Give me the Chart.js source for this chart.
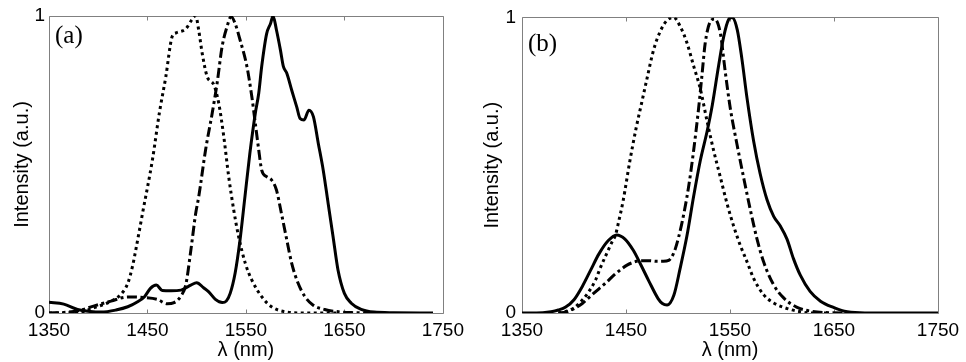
<!DOCTYPE html>
<html>
<head>
<meta charset="utf-8">
<script src="https://cdn.jsdelivr.net/npm/chart.js@4.4.1/dist/chart.umd.min.js"></script>
<style>
  html, body { margin: 0; padding: 0; background: #fff; width: 966px; height: 362px; overflow: hidden; }
  canvas { position: absolute; top: 0; }
  #ca { left: 0; }
  #cb { left: 470px; }
</style>
</head>
<body>
<canvas id="ca" width="470" height="362"></canvas>
<canvas id="cb" width="496" height="362"></canvas>
<script>
// ---------- DATA ----------
const xTickValues = [1350, 1450, 1550, 1650, 1750];
const yTickValues = [0, 1];
const xTitle = 'λ (nm)';
const yTitle = 'Intensity (a.u.)';
const panelLabels = ['(a)', '(b)'];

// Panel (a)
const aSolidX = [1350,1365,1379,1392,1403,1418,1430,1440,1447,1453,1459,1465,1474,1484,1494,1500,1507,1512,1519,1526,1530,1534,1539,1544,1549,1554,1559.5,1563,1566,1571,1575,1577.5,1581,1585,1588,1591.5,1596.5,1601.5,1605,1609,1614,1618.5,1623.5,1628.5,1633.5,1638.5,1643.5,1650,1657,1667,1680,1700,1740];
const aSolidY = [0.036,0.03,0.012,0.005,0.003,0.01,0.021,0.038,0.055,0.083,0.094,0.076,0.075,0.077,0.094,0.102,0.085,0.072,0.046,0.035,0.04,0.066,0.134,0.246,0.392,0.538,0.672,0.74,0.83,0.94,0.975,1.0,0.953,0.886,0.83,0.807,0.75,0.695,0.655,0.65,0.683,0.661,0.571,0.481,0.369,0.257,0.145,0.066,0.033,0.012,0.003,0.001,0];

const aDotX = [1350,1380,1396,1413,1423,1430,1435,1438,1445,1455,1462,1468.6,1475,1479,1489,1495.6,1499,1502,1505.6,1510.6,1517.4,1522.4,1527.5,1532.5,1537.6,1542.6,1549.4,1556,1566,1576,1590,1610,1645];
const aDotY = [0,0.002,0.018,0.04,0.063,0.1,0.16,0.21,0.336,0.515,0.672,0.795,0.93,0.943,0.957,0.99,1.0,0.953,0.874,0.796,0.768,0.706,0.594,0.459,0.347,0.257,0.167,0.111,0.055,0.021,0.004,0,0];

const aDashX = [1350,1365,1379,1396,1413,1430,1447,1460,1470,1477,1484,1489,1494,1499,1502,1509,1515.7,1520.7,1525.8,1530.8,1535,1539,1544,1551,1556,1559.5,1563,1566,1571,1576,1581,1586,1591.5,1596.5,1603,1610,1618,1630,1644,1660,1680];
const aDashY = [0,0.002,0.007,0.024,0.04,0.054,0.052,0.046,0.031,0.035,0.057,0.096,0.21,0.336,0.39,0.549,0.672,0.773,0.897,0.964,0.998,0.975,0.92,0.83,0.728,0.639,0.549,0.481,0.459,0.448,0.414,0.336,0.246,0.167,0.1,0.055,0.027,0.012,0.004,0.001,0];

// Panel (b)
const bSolidX = [1350,1370,1378,1385,1392,1400,1408,1416,1424,1433,1441,1449,1457,1464,1472,1481,1485,1489.5,1496,1502,1508.6,1515,1521.4,1528,1533,1539,1544,1548.7,1552,1557,1561.5,1566.4,1572.7,1579,1585.6,1592,1598.4,1604.8,1611,1617.6,1627,1637,1650,1660,1675,1700,1750];
const bSolidY = [0,0.001,0.004,0.01,0.02,0.045,0.09,0.145,0.2,0.245,0.264,0.25,0.212,0.165,0.108,0.048,0.032,0.027,0.06,0.15,0.261,0.394,0.515,0.615,0.704,0.836,0.936,0.993,1.0,0.958,0.858,0.726,0.582,0.471,0.383,0.327,0.294,0.25,0.184,0.128,0.073,0.04,0.018,0.006,0.001,0,0];

const bDotX = [1385,1392,1400,1408,1413,1420.5,1425,1430,1436.5,1440,1443,1447,1454,1460,1465,1470,1476.6,1483,1489.4,1495.8,1502.2,1508.6,1515,1521.4,1528,1534.3,1540.7,1547,1553.5,1560,1566.4,1572.7,1582.3,1592,1605,1618,1630,1645];
const bDotY = [0,0.005,0.017,0.044,0.066,0.11,0.15,0.19,0.24,0.265,0.31,0.375,0.52,0.63,0.71,0.79,0.891,0.953,0.99,1.0,0.969,0.914,0.836,0.759,0.648,0.549,0.46,0.372,0.294,0.228,0.173,0.117,0.062,0.034,0.015,0.004,0,0];

const bDashX = [1385,1392,1400,1408,1413,1424,1430,1440,1451,1456,1464,1472,1480,1486,1491,1494,1497.4,1503.8,1510.2,1515,1519.8,1523,1526.2,1531,1535,1540.7,1545.5,1550.3,1556.7,1563,1569.5,1576,1582.3,1592,1601.6,1614,1628,1645,1670];
const bDashY = [0,0.003,0.015,0.032,0.048,0.082,0.1,0.133,0.162,0.17,0.177,0.177,0.175,0.175,0.178,0.19,0.217,0.305,0.427,0.549,0.692,0.803,0.914,0.986,0.995,0.947,0.814,0.692,0.571,0.46,0.35,0.25,0.173,0.095,0.051,0.02,0.006,0.001,0];

// ---------- CHART ----------
function pts(xs, ys) { return xs.map((x, i) => ({ x: x, y: ys[i] })); }

function ds(xs, ys, dash) {
  return {
    data: pts(xs, ys),
    borderColor: '#000',
    borderWidth: 3,
    borderDash: dash,
    borderCapStyle: 'butt',
    pointRadius: 0,
    fill: false,
    cubicInterpolationMode: 'monotone'
  };
}

const DOT = [3, 3.5];
const DASHDOT = [10, 3.5, 3, 3.5];

function framePlugin(label, labelDy) {
  return {
    id: 'frame',
    beforeDatasetsDraw(chart) {
      const { ctx, chartArea: a, scales: { x } } = chart;
      ctx.save();
      ctx.strokeStyle = '#808080';
      ctx.lineWidth = 1;
      const l = Math.round(a.left) + 0.5, t = Math.round(a.top) + 0.5;
      const r = Math.round(a.right) + 0.5, b = Math.round(a.bottom) + 0.5;
      ctx.beginPath();
      ctx.rect(l, t, r - l, b - t);
      x.ticks.forEach(tk => {
        const px = Math.round(x.getPixelForValue(tk.value)) + 0.5;
        ctx.moveTo(px, t); ctx.lineTo(px, t + 4);
        ctx.moveTo(px, b); ctx.lineTo(px, b - 4);
      });
      ctx.stroke();
      ctx.restore();
    },
    afterDraw(chart) {
      const { ctx, chartArea: a } = chart;
      ctx.save();
      ctx.fillStyle = '#000';
      ctx.font = '25px "Liberation Serif", "Times New Roman", serif';
      ctx.textBaseline = 'middle';
      ctx.textAlign = 'left';
      ctx.fillText(label, a.left + 6, a.top + labelDy);
      ctx.restore();
    }
  };
}

const FONT = '"Liberation Sans", Arial, sans-serif';

function makeChart(id, datasets, pad, yWidth, yTickPad, label, labelDy) {
  return new Chart(document.getElementById(id), {
    type: 'line',
    data: { datasets: datasets },
    options: {
      responsive: false,
      animation: false,
      devicePixelRatio: 1,
      layout: { padding: pad },
      plugins: { legend: { display: false }, tooltip: { enabled: false }, title: { display: false } },
      scales: {
        x: {
          type: 'linear',
          min: 1350, max: 1750,
          afterBuildTicks: s => { s.ticks = xTickValues.map(v => ({ value: v })); },
          afterFit: s => { s.height = 49; },
          grid: { display: false, drawTicks: false },
          border: { display: false },
          ticks: {
            padding: 6, maxRotation: 0, autoSkip: false,
            color: '#000',
            font: { family: FONT, size: 19 },
            callback: v => String(v)
          },
          title: {
            display: true, text: xTitle, color: '#000',
            font: { family: FONT, size: 20 },
            padding: { top: 0, bottom: 0 }
          }
        },
        y: {
          type: 'linear',
          min: 0, max: 1,
          afterBuildTicks: s => { s.ticks = yTickValues.map(v => ({ value: v })); },
          afterFit: s => { s.width = yWidth; },
          grid: { display: false, drawTicks: false },
          border: { display: false },
          ticks: {
            padding: yTickPad,
            color: '#000',
            font: { family: FONT, size: 19 },
            callback: v => String(v)
          },
          title: {
            display: true, text: yTitle, color: '#000',
            font: { family: FONT, size: 20 },
            padding: { top: 10, bottom: 0 }
          }
        }
      }
    },
    plugins: [framePlugin(label, labelDy)]
  });
}

makeChart('ca', [
  ds(aDotX, aDotY, DOT),
  ds(aDashX, aDashY, DASHDOT),
  ds(aSolidX, aSolidY, [])
], { left: 0, top: 16, right: 25, bottom: 0 }, 49, 4, panelLabels[0], 20);

makeChart('cb', [
  ds(bDotX, bDotY, DOT),
  ds(bDashX, bDashY, DASHDOT),
  ds(bSolidX, bSolidY, [])
], { left: 0, top: 12, right: 28, bottom: 0 }, 52, 6, panelLabels[1], 27);
</script>
</body>
</html>
